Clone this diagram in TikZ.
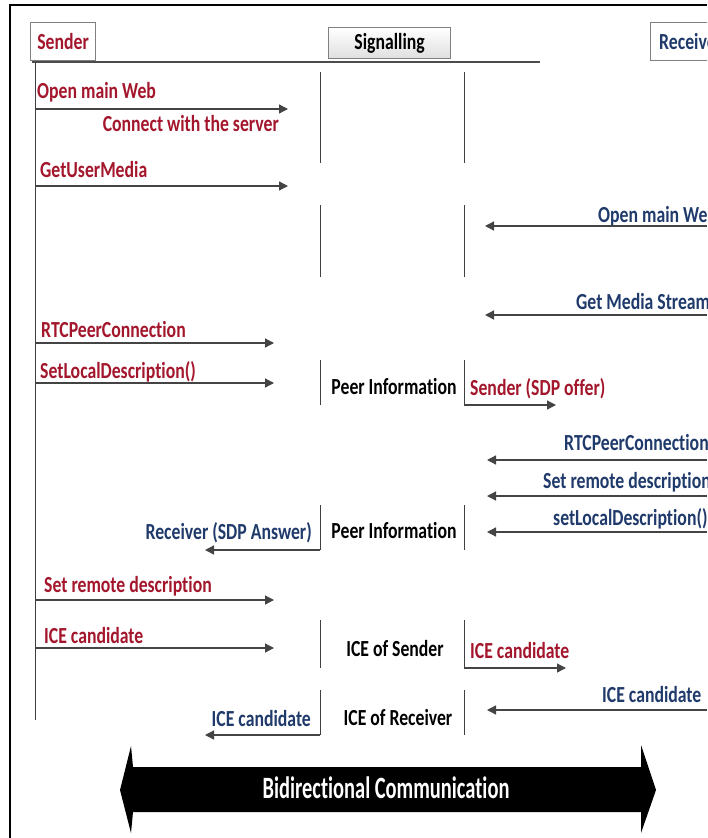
\documentclass[tikz,border=0pt]{standalone}
\usepackage{fontspec}
\setmainfont{Carlito}
\newfontfamily\labfont{Carlito}[FakeStretch=0.77, Ligatures=NoCommon]
\newfontfamily\bigfont{Carlito}[FakeStretch=0.66, Ligatures=NoCommon]
\usetikzlibrary{arrows.meta}
\definecolor{sred}{HTML}{A3162C}
\definecolor{rnavy}{HTML}{1F3A6B}
\definecolor{agray}{HTML}{444444}
\begin{document}
\begin{tikzpicture}[x=1pt,y=-1pt,
  lbl/.style={font=\labfont\bfseries\fontsize{23}{25}\selectfont, inner sep=0pt},
  sndtxt/.style={lbl, text=sred, anchor=base west},
  sndtxtr/.style={lbl, text=sred, anchor=base east},
  rcvtxt/.style={lbl, text=rnavy, anchor=base west},
  rcvtxtr/.style={lbl, text=rnavy, anchor=base east},
  midtxt/.style={lbl, text=black, anchor=base},
  msg/.style={draw=agray, line width=1.3pt, -{Triangle[length=9pt,width=9pt]}},
  life/.style={draw=black!75, line width=0.9pt},
  hdr/.style={lbl, draw=gray, line width=1.2pt, minimum height=38pt, anchor=north west, inner xsep=4pt}
]
\clip (0,0) rectangle (707,838);
\fill[white] (0,0) rectangle (707,838);
% frame
\draw[line width=1.8pt] (10,838) -- (10,5) -- (707,5);
% headers
\node[hdr, text=sred, minimum width=65pt] (sender) at (30,22) {Sender};
\node[hdr, text=black, minimum width=122pt, minimum height=31pt, top color=white, bottom color=gray!25] (signal) at (328,27) {Signalling};
\node[hdr, text=rnavy, minimum width=80pt] (receiver) at (650,22) {Receiver};
\coordinate (hl1) at (32,62); \coordinate (hl2) at (540,62);
\draw[draw=gray!60!black, line width=1.4pt] (hl1) -- (hl2);
% sender lifeline
\coordinate (sl1) at (35,62); \coordinate (sl2) at (35,720);
\draw[life] (sl1) -- (sl2);
% signalling segments
\foreach \i/\a/\b in {1/72/163, 2/205/277, 3/360/405, 4/505/550, 5/620/668, 6/690/735}{
  \coordinate (L\i a) at (320,\a); \coordinate (L\i b) at (320,\b);
  \coordinate (R\i a) at (464,\a); \coordinate (R\i b) at (464,\b);
  \draw[life] (L\i a) -- (L\i b);
  \draw[life] (R\i a) -- (R\i b);
}
% sender-side messages
\node[sndtxt] (t1) at (37,98) {Open main Web};
\coordinate (m1s) at (35,109); \coordinate (m1e) at (288,109); \draw[msg] (m1s) -- (m1e);
\node[sndtxtr] (t2) at (279,131) {Connect with the server};
\node[sndtxt] (t3) at (40,177) {GetUserMedia};
\coordinate (m3s) at (35,186); \coordinate (m3e) at (288,186); \draw[msg] (m3s) -- (m3e);
\node[sndtxt] (t4) at (41,337) {RTCPeerConnection};
\coordinate (m4s) at (35,343); \coordinate (m4e) at (274,343); \draw[msg] (m4s) -- (m4e);
\node[sndtxt] (t5) at (40,378) {SetLocalDescription()};
\coordinate (m5s) at (35,383); \coordinate (m5e) at (274,383); \draw[msg] (m5s) -- (m5e);
\node[sndtxt] (t6) at (44,592) {Set remote description};
\coordinate (m6s) at (35,600); \coordinate (m6e) at (274,600); \draw[msg] (m6s) -- (m6e);
\node[sndtxt] (t7) at (44,643) {ICE candidate};
\coordinate (m7s) at (35,648); \coordinate (m7e) at (274,648); \draw[msg] (m7s) -- (m7e);
% receiver-side messages
\coordinate (redge1) at (707,226); \coordinate (rtip1) at (485,226);
\node[rcvtxt] (r1) at (598,222) {Open main Web};
\draw[msg] (redge1) -- (rtip1);
\coordinate (redge2) at (707,315); \coordinate (rtip2) at (485,315);
\node[rcvtxt] (r2) at (576,309) {Get Media Stream};
\draw[msg] (redge2) -- (rtip2);
\coordinate (redge3) at (707,460); \coordinate (rtip3) at (487,460);
\node[rcvtxt] (r3) at (564,450) {RTCPeerConnection};
\draw[msg] (redge3) -- (rtip3);
\coordinate (redge4) at (707,496); \coordinate (rtip4) at (487,496);
\node[rcvtxt] (r4) at (543,488) {Set remote description};
\draw[msg] (redge4) -- (rtip4);
\coordinate (redge5) at (707,532); \coordinate (rtip5) at (487,532);
\node[rcvtxt] (r5) at (553,525) {setLocalDescription()};
\draw[msg] (redge5) -- (rtip5);
\coordinate (redge6) at (707,710); \coordinate (rtip6) at (487,710);
\node[rcvtxt] (r6) at (602,702) {ICE candidate};
\draw[msg] (redge6) -- (rtip6);
% signalling middle
\node[midtxt] (p1) at (394,394) {Peer Information};
\node[sndtxt] (so) at (470,395) {Sender (SDP offer)};
\coordinate (soe) at (556,405); \draw[msg] (R3b) -- (soe);
\node[midtxt] (p2) at (394,538) {Peer Information};
\node[rcvtxtr] (sa) at (312,539) {Receiver (SDP Answer)};
\coordinate (sae) at (205,550); \draw[msg] (L4b) -- (sae);
\node[midtxt] (ic1) at (395,656) {ICE of Sender};
\node[sndtxt] (ics) at (470,658) {ICE candidate};
\coordinate (icse) at (566,668); \draw[msg] (R5b) -- (icse);
\node[midtxt] (ic2) at (398,725) {ICE of Receiver};
\node[rcvtxtr] (icr) at (311,726) {ICE candidate};
\coordinate (icre) at (205,735); \draw[msg] (L6b) -- (icre);
% bidirectional arrow
\fill[black] (120,790) -- (131,746) -- (133,767) -- (641,767) -- (641,745)
  -- (656,790) -- (641,833) -- (641,812) -- (133,812) -- (131,833) -- cycle;
\node[text=white, font=\bigfont\bfseries\fontsize{31}{33}\selectfont, inner sep=0pt, anchor=base] (bc) at (386,798) {Bidirectional Communication};
\end{tikzpicture}
\end{document}
